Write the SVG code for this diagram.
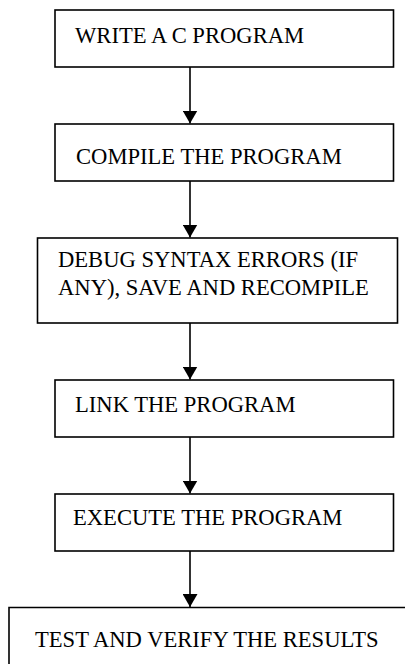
<svg xmlns="http://www.w3.org/2000/svg" width="405" height="664" viewBox="0 0 405 664">
<style>
.box{fill:#fff;stroke:#000;stroke-width:1.6}
.lbl{font-family:"Liberation Serif","Times New Roman",serif;font-size:22.6px;fill:#000}
.conn{stroke:#000;stroke-width:1.6;fill:none}
</style>
<defs>
<marker id="ah" markerWidth="13" markerHeight="15" refX="13" refY="7.5" orient="auto" markerUnits="userSpaceOnUse">
<path d="M0,0 L13,7.5 L0,15 Z" fill="#000"/>
</marker>
</defs>
<rect width="405" height="664" fill="#fff"/>
<g id="connectors">
<line class="conn" x1="190" y1="67" x2="190" y2="123.5" marker-end="url(#ah)"/>
<line class="conn" x1="190" y1="181" x2="190" y2="237.5" marker-end="url(#ah)"/>
<line class="conn" x1="190" y1="323" x2="190" y2="379.5" marker-end="url(#ah)"/>
<line class="conn" x1="190" y1="437" x2="190" y2="493.5" marker-end="url(#ah)"/>
<line class="conn" x1="190" y1="551" x2="190" y2="607" marker-end="url(#ah)"/>
</g>
<g id="write">
<rect class="box" x="55" y="10" width="338.5" height="57"/>
<text class="lbl" x="75" y="42.5">WRITE A C PROGRAM</text>
</g>
<g id="compile">
<rect class="box" x="55" y="124" width="338.5" height="57"/>
<text class="lbl" x="76" y="164">COMPILE THE PROGRAM</text>
</g>
<g id="debug">
<rect class="box" x="37.5" y="238" width="360" height="85"/>
<text class="lbl" x="58" y="267">DEBUG SYNTAX ERRORS (IF</text>
<text class="lbl" x="58" y="295">ANY), SAVE AND RECOMPILE</text>
</g>
<g id="link">
<rect class="box" x="55" y="380" width="338.5" height="57"/>
<text class="lbl" x="75" y="412">LINK THE PROGRAM</text>
</g>
<g id="execute">
<rect class="box" x="55" y="494" width="338.5" height="57"/>
<text class="lbl" x="73" y="525">EXECUTE THE PROGRAM</text>
</g>
<g id="test">
<path class="box" d="M410,607.5 H9 V670"/>
<text class="lbl" x="35" y="647">TEST AND VERIFY THE RESULTS</text>
</g>
</svg>
